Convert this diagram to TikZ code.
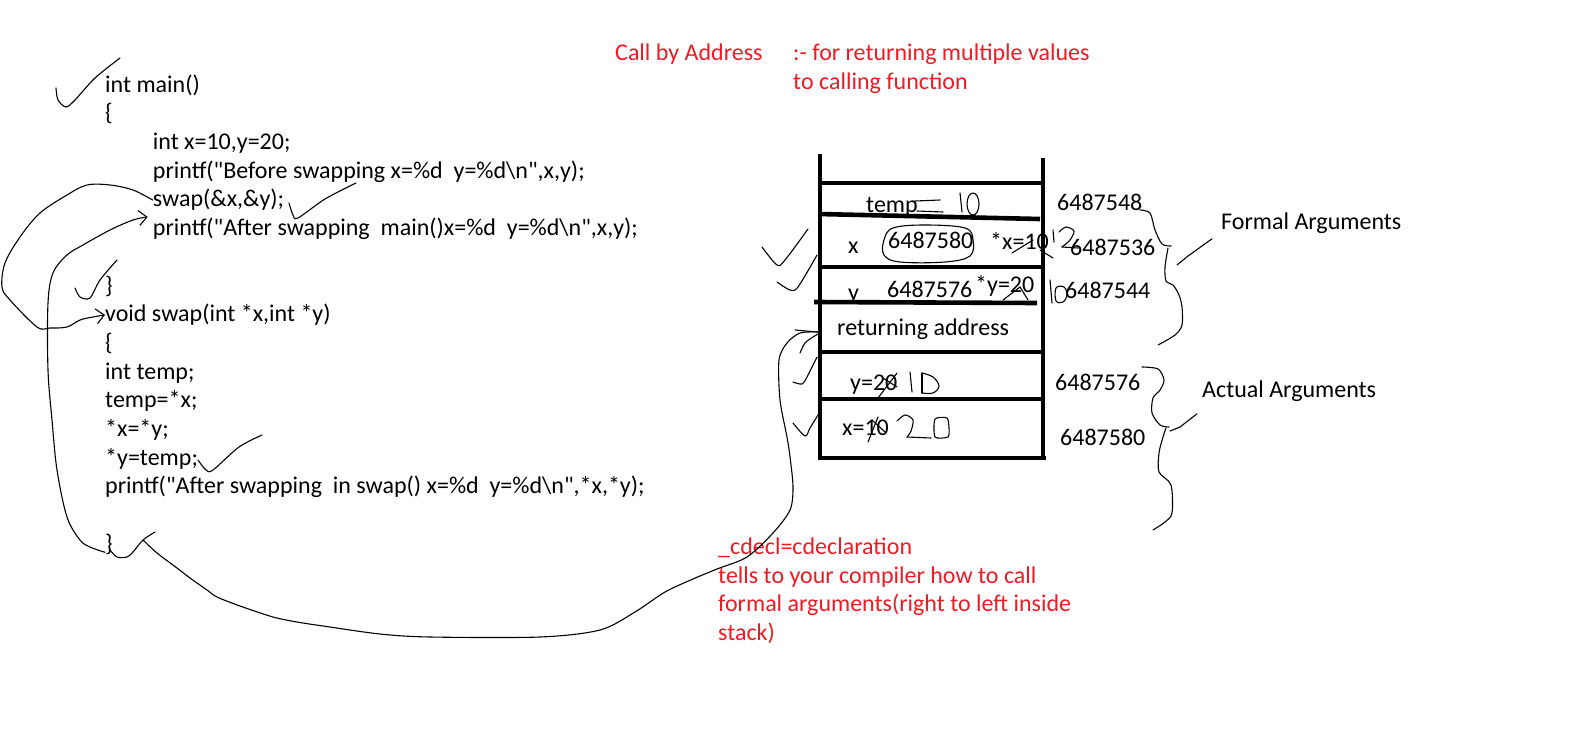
\documentclass[tikz,border=0pt]{standalone}
\usepackage{fontspec}
\setmainfont{Carlito}[Ligatures=TeXOff]
\usetikzlibrary{arrows.meta}
\definecolor{pred}{RGB}{237,28,36}
\tikzset{
  code/.style={anchor=base west, inner sep=0pt, font=\fontsize{24}{28.7}\selectfont},
  redtxt/.style={code, text=pred},
  hand/.style={line width=1.1pt, line join=round, line cap=round},
  bar/.style={line width=4.6pt},
  barb/.style={-{Straight Barb[length=8pt,width=15pt]}},
}
\begin{document}
\begin{tikzpicture}[x=1pt,y=-1pt]
\useasboundingbox[fill=white] (0,0) rectangle (1594,746);

% ---------- code ----------
\node[code] (c0) at (105,92.1) {int main()};
\node[code] (c1) at (105,120.8) {\{};
\node[code] (c2) at (152.7,149.5) {int x=10,y=20;};
\node[code] (c3) at (152.7,178.2) {printf("Before swapping x=\%d\ \ y=\%d\textbackslash n",x,y);};
\node[code] (c4) at (152.7,206.9) {swap(\&x,\&y);};
\node[code] (c5) at (152.7,235.6) {printf("After swapping\ \ main()x=\%d\ \ y=\%d\textbackslash n",x,y);};
\node[code] (c7) at (105,293) {\}};
\node[code] (c8) at (105,321.7) {void swap(int *x,int *y)};
\node[code] (c9) at (105,350.4) {\{};
\node[code] (c10) at (105,379.1) {int temp;};
\node[code] (c11) at (105,407.8) {temp=*x;};
\node[code] (c12) at (105,436.5) {*x=*y;};
\node[code] (c13) at (105,465.2) {*y=temp;};
\node[code] (c14) at (105,493.9) {printf("After swapping\ \ in swap() x=\%d\ \ y=\%d\textbackslash n",*x,*y);};
\node[code] (c16) at (105,551.3) {\}};

% ---------- red notes ----------
\node[redtxt] (t1) at (615,60.5) {Call by Address};
\node[redtxt] (t2) at (793,60.5) {:- for returning multiple values};
\node[redtxt] (t3) at (793,89.5) {to calling function};
\node[redtxt] (n1) at (718,554.6) {\_cdecl=cdeclaration};
\node[redtxt] (n2) at (718,583.2) {tells to your compiler how to call};
\node[redtxt] (n3) at (718,611.8) {formal arguments(right to left inside};
\node[redtxt] (n4) at (718,640.4) {stack)};

% ---------- stack ----------
\draw[bar] (820,154) -- (820,459);
\draw[bar] (1043,158) -- (1043,457);
\draw[bar] (820,183) -- (1043,183);
\draw[bar] (818,214) -- (1040,219);
\draw[bar] (820,267) -- (1043,267);
\draw[bar] (814,302) -- (1037,303);
\draw[bar] (820,352) -- (1043,352);
\draw[bar] (820,399) -- (1043,399);
\draw[bar] (818,458) -- (1046,458);

\node[code] (temp) at (866,212) {temp};
\node[code] (sx) at (848,253) {x};
\node[code] (ax) at (888,248) {6487580};
\node[code] (vx) at (990,249) {*x=10};
\node[code] (sy) at (848,300) {y};
\node[code] (ay) at (887,297) {6487576};
\node[code] (vy) at (975,292) {*y=20};
\node[code] (ret) at (837,335) {returning address};
\node[code] (my) at (850,390) {y=20};
\node[code] (mx) at (842,435) {x=10};

\node[code] (a1) at (1057,210.5) {6487548};
\node[code] (a2) at (1070,255) {6487536};
\node[code] (a3) at (1065,298) {6487544};
\node[code] (a4) at (1055,390) {6487576};
\node[code] (a5) at (1060,445) {6487580};

\node[code] (fa) at (1221,229.5) {Formal Arguments};
\node[code] (aa) at (1202,397.5) {Actual Arguments};

% ---------- hand marks in stack ----------
\draw[hand] (915,201) -- (940,200);
\draw[hand] (917,211) -- (943,212);
\draw[hand] (960,193) -- (962,212);
\draw[hand] (973,204) ellipse[x radius=6, y radius=11];
\draw[hand] plot[smooth cycle, tension=0.6] coordinates {(884,240) (893,228) (925,225) (965,228) (973,240) (970,256) (945,262) (900,262) (884,255)};
\draw[hand] (1012,253) -- (1033,240);
\draw[hand] (1040,250) -- (1053,258);
\draw[hand] (1053,230) -- (1054,242);
\draw[hand] plot[smooth, tension=0.5] coordinates {(1059,232) (1066,227) (1074,231) (1070,240) (1062,247)};
\draw[hand] (1062,247) -- (1078,248);
\draw[hand] (1003,300) -- (1020,287) -- (1028,300);
\draw[hand] (1050,280) -- (1052,303);
\draw[hand] plot[smooth cycle, tension=0.6] coordinates {(1056,288) (1064,287) (1067,295) (1063,302) (1056,301)};
\draw[hand] (878,398) -- (897,373);
\draw[hand] (883,378) -- (897,387);
\draw[hand] (910,372) -- (912,392);
\draw[hand] (922,373) -- (922,393);
\draw[hand] plot[smooth, tension=0.6] coordinates {(922,373) (933,377) (939,386) (933,393) (922,393)};
\draw[hand] (868,442) -- (878,417);
\draw[hand] (872,420) -- (885,432);
\draw[hand] plot[smooth, tension=0.5] coordinates {(897,421) (905,415) (913,420) (911,431) (907,437)};
\draw[hand] (907,437) -- (931,438);
\draw[hand] plot[smooth cycle, tension=0.4] coordinates {(935,419) (947,418) (949,428) (948,437) (935,437)};

% ---------- braces ----------
\draw[hand] plot[smooth, tension=0.5] coordinates {(1140,210) (1150,213) (1155,230) (1162,244) (1171,246)};
\draw[hand] plot[smooth, tension=0.5] coordinates {(1168,248) (1165,267) (1166,281) (1173,285) (1179,295) (1182,307) (1182,325) (1175,335) (1158,345)};
\draw[hand] (1177,265) -- (1188,256) -- ([xshift=-9pt,yshift=-5pt]fa.south west);
\draw[hand] plot[smooth, tension=0.5] coordinates {(1142,367) (1158,369) (1164,380) (1160,390) (1153,398) (1152,413) (1160,425) (1169,427)};
\draw[hand] plot[smooth, tension=0.5] coordinates {(1166,428) (1163,437) (1159,453) (1159,472) (1171,485) (1172,513) (1165,522) (1153,530)};
\draw[hand] (1170,431) -- (1180,427) -- ([xshift=-5pt,yshift=-12pt]aa.south west);

% ---------- checkmarks ----------
\draw[hand] plot[smooth, tension=0.5] coordinates {(56,88) (58,100) (66,107) (75,100) (95,78) (120,58)};
\draw[hand] plot[smooth, tension=0.5] coordinates {(289,203) (293,215) (298,218) (325,199) (356,183)};
\draw[hand] plot[smooth, tension=0.5] coordinates {(75,288) (80,297) (90,298) (100,280) (117,260)};
\draw[hand] plot[smooth, tension=0.5] coordinates {(198,460) (206,470) (213,470) (239,447) (262,435)};
\draw[hand] plot[smooth, tension=0.5] coordinates {(110,550) (117,557) (127,557) (133,552) (143,540) (155,532)};
\draw[hand] plot[smooth, tension=0.5] coordinates {(762,247) (777,265) (785,260) (808,229)};
\draw[hand] plot[smooth, tension=0.5] coordinates {(777,282) (790,290) (798,287) (817,255)};
\draw[hand] plot[smooth, tension=0.5] coordinates {(793,382) (802,384) (807,377) (817,357)};
\draw[hand] plot[smooth, tension=0.5] coordinates {(793,423) (805,436) (810,428) (818,415)};
\draw[hand] (795,330) -- (817,332);
\draw[hand] plot[smooth, tension=0.5] coordinates {(800,353) (805,343) (813,337) (818,334)};

% ---------- connectors ----------
\coordinate (ck) at (143,540);
\coordinate (rin) at (818,332);
\draw[hand, barb] plot[smooth, tension=0.55] coordinates {(c4.west) (133,190) (110,185) (87,185) (67,195) (40,213) (20,237) (5,263) (2,287) (10,300) (37,327) (50,328) (67,327) (80,320) (93,317) (c8.west)};
\draw[hand, barb] plot[smooth, tension=0.55] coordinates {([yshift=-8pt]c16.west) (90,547) (80,540) (67,517) (57,470) (52,420) (48,370) (48,303) (53,273) (67,255) (83,245) (110,230) (133,220) ([xshift=-5pt,yshift=12pt]c5.west)};
\draw[hand] plot[smooth, tension=0.5] coordinates {(ck) (157,553) (177,568) (190,578) (207,590) (217,597) (240,606) (273,617) (297,622) (323,626) (380,634) (430,637) (540,637) (600,630) (635,612) (665,592) (693,579) (717,569) (747,557) (773,533) (790,510) (793,487) (790,457) (787,437) (780,400) (779,360) (787,343) (800,333) (rin)};
\end{tikzpicture}
\end{document}
